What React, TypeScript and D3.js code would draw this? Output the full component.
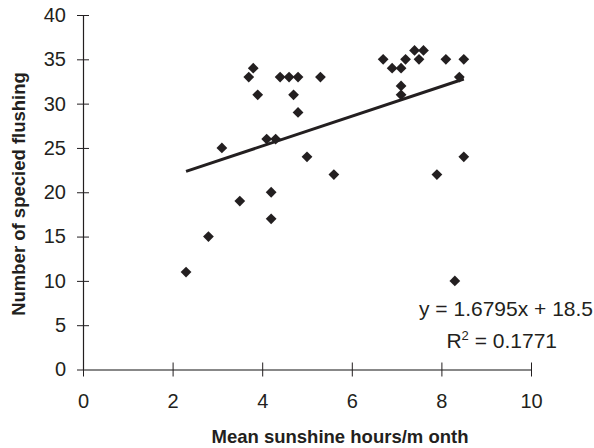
import * as d3 from "d3";
import { useEffect, useRef } from "react";

const sunshine = [
  2.3, 2.8, 3.1, 3.5, 3.7, 3.8, 3.9, 4.1, 4.3, 4.2, 4.2, 4.4, 4.6, 4.7, 4.8, 4.8, 5.0,
  5.3, 5.6, 6.7, 6.9, 7.1, 7.1, 7.1, 7.2, 7.4, 7.6, 7.5, 7.9, 8.1, 8.4, 8.5, 8.5, 8.3,
];
const species = [
  11, 15, 25, 19, 33, 34, 31, 26, 26, 20, 17, 33, 33, 31, 33, 29, 24,
  33, 22, 35, 34, 34, 32, 31, 35, 36, 36, 35, 22, 35, 33, 35, 24, 10,
];
const xTicks = [0, 2, 4, 6, 8, 10];
const yTicks = [0, 5, 10, 15, 20, 25, 30, 35, 40];
const slope = 1.6795;
const intercept = 18.5;
const equationLabel = "y = 1.6795x + 18.5";
const rSquared = "0.1771";

const ScatterChart = () => {
  const svgRef = useRef(null);
  const width = 594;
  const height = 448;

  useEffect(() => {
    const svg = d3.select(svgRef.current);
    svg.selectAll("*").remove();

    const margin = { top: 15, right: 63, bottom: 78.5, left: 83 };
    const innerWidth = width - margin.left - margin.right;
    const innerHeight = height - margin.top - margin.bottom;
    const font = "'Liberation Sans', Arial, sans-serif";
    const ink = "#231f20";

    const g = svg
      .append("g")
      .attr("transform", "translate(" + margin.left + "," + margin.top + ")");

    const x = d3.scaleLinear().domain([0, 10]).range([0, innerWidth]);
    const y = d3.scaleLinear().domain([0, 40]).range([innerHeight, 0]);

    // y axis, ticks cross the line
    const yAxis = g
      .append("g")
      .call(d3.axisLeft(y).tickValues(yTicks).tickSize(6).tickSizeOuter(0).tickPadding(11));
    yAxis.select(".domain").attr("stroke", ink).attr("stroke-width", 1.2);
    yAxis.selectAll(".tick line").attr("x1", 6).attr("x2", -6).attr("stroke", ink);
    yAxis
      .selectAll(".tick text")
      .attr("font-family", font)
      .attr("font-size", 20)
      .attr("fill", ink);

    const xAxis = g
      .append("g")
      .attr("transform", "translate(0," + innerHeight + ")")
      .call(d3.axisBottom(x).tickValues(xTicks).tickSize(7).tickSizeOuter(0).tickPadding(17));
    xAxis.select(".domain").attr("stroke", "#888").attr("stroke-width", 2);
    xAxis.selectAll(".tick line").attr("y1", -7).attr("y2", 7).attr("stroke", ink);
    xAxis
      .selectAll(".tick text")
      .attr("font-family", font)
      .attr("font-size", 20)
      .attr("fill", ink);

    // trend line
    const ext = d3.extent(sunshine) as [number, number];
    const trend = ext.map((v) => [v, slope * v + intercept]);
    g.append("path")
      .datum(trend)
      .attr("fill", "none")
      .attr("stroke", ink)
      .attr("stroke-width", 3)
      .attr(
        "d",
        d3
          .line()
          .x((d: any) => x(d[0]))
          .y((d: any) => y(d[1])) as any
      );

    // points
    const diamond = d3.symbol().type(d3.symbolSquare).size(58);
    g.selectAll(".pt")
      .data(sunshine.map((v, i) => ({ x: v, y: species[i] })))
      .join("path")
      .attr("class", "pt")
      .attr("d", diamond as any)
      .attr("fill", ink)
      .attr("transform", (d) => `translate(${x(d.x)},${y(d.y)}) rotate(45)`);

    // equation
    g.append("text")
      .attr("x", x(10) + 62)
      .attr("y", y(0) - 54)
      .attr("text-anchor", "end")
      .attr("font-family", font)
      .attr("font-size", 21)
      .attr("fill", ink)
      .text(equationLabel);

    const r2 = g
      .append("text")
      .attr("x", x(10) + 26)
      .attr("y", y(0) - 21.5)
      .attr("text-anchor", "end")
      .attr("font-family", font)
      .attr("font-size", 21)
      .attr("fill", ink);
    r2.append("tspan").text("R");
    r2.append("tspan").attr("font-size", 13).attr("dy", -8).text("2");
    r2.append("tspan").attr("dy", 8).text(" = " + rSquared);

    // axis titles
    svg
      .append("text")
      .attr("x", 340)
      .attr("y", 443)
      .attr("text-anchor", "middle")
      .attr("font-family", font)
      .attr("font-weight", "bold")
      .attr("font-size", 18.5)
      .attr("fill", ink)
      .text("Mean sunshine hours/m onth");

    svg
      .append("text")
      .attr("transform", "translate(25,194) rotate(-90)")
      .attr("text-anchor", "middle")
      .attr("font-family", font)
      .attr("font-weight", "bold")
      .attr("font-size", 18.5)
      .attr("fill", ink)
      .text("Number of specied flushing");
  }, []);

  return <svg width={width} height={height} ref={svgRef} />;
};

export default function App() {
  return (
    <div style={{ position: "absolute", left: 0, top: 0 }}>
      <ScatterChart />
    </div>
  );
}
